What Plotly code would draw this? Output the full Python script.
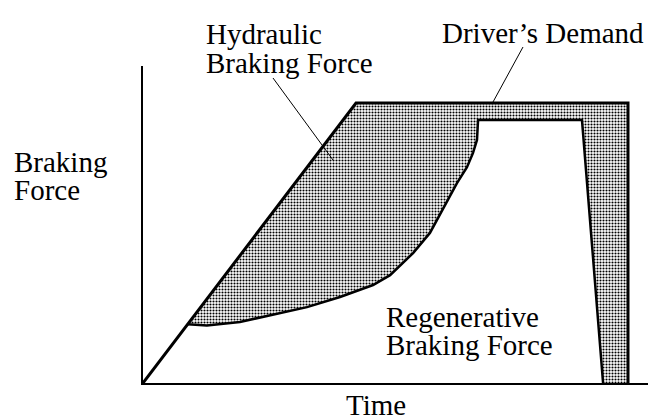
import plotly.graph_objects as go

# ---- data (time units, force units) ----
demand_time = [0, 10, 22.77, 22.77]
demand_force = [0, 10, 10, 0]

regen_time = [2.1, 3.0, 4.55, 6.10, 7.70, 9.25, 10.80, 11.6, 12.68, 13.47, 14.27, 14.74, 15.21, 15.49, 15.68, 15.73, 20.61, 21.6]
regen_force = [2.1, 2.05, 2.18, 2.43, 2.71, 3.07, 3.5, 3.85, 4.64, 5.36, 6.46, 7.14, 7.71, 8.21, 8.68, 9.39, 9.39, 0]

# ---- layout geometry (pixels) ----
W, H = 651, 420
L, R, T, B = 143, 3, 66, 37
PW, PH = W - L - R, H - T - B
XSCALE, YSCALE = 21.3, 28.0  # px per unit

def px(x):
    return (x - L) / PW

def py(y):
    return (H - B - y) / PH

# hydraulic region polygon: from regen start up the demand line, around, and back along regen
hyd_x = [regen_time[0]] + demand_time[1:] + regen_time[::-1]
hyd_y = [regen_force[0]] + demand_force[1:] + regen_force[::-1]

fig = go.Figure()
fig.add_trace(go.Scatter(
    x=hyd_x, y=hyd_y, mode="none", fill="toself",
    fillcolor="rgba(0,0,0,0)",
    fillpattern=dict(shape=".", size=3, solidity=0.38, fgcolor="#000000", bgcolor="#ffffff", fgopacity=1),
    hoverinfo="skip", showlegend=False,
))
fig.add_trace(go.Scatter(
    x=demand_time, y=demand_force, mode="lines",
    line=dict(color="black", width=3), showlegend=False, cliponaxis=False,
))
fig.add_trace(go.Scatter(
    x=regen_time, y=regen_force, mode="lines",
    line=dict(color="black", width=2.5), showlegend=False, cliponaxis=False,
))

FONT = dict(family="Liberation Serif", size=29, color="black")

labels = [
    ("Hydraulic", 204, 34.5),
    ("Braking Force", 204, 62.5),
    ("Driver\u2019s Demand", 440, 32.5),
    ("Braking", 12, 161.5),
    ("Force", 12, 189.5),
    ("Time", 344, 404.5),
    ("Regenerative", 384, 316.5),
    ("Braking Force", 384, 344.5),
]
for text, x, y in labels:
    fig.add_annotation(text=text, x=px(x), y=py(y), xref="paper", yref="paper",
                       xanchor="left", yanchor="middle", showarrow=False, font=FONT)

# leader lines
for (x0, y0, x1, y1) in [(273, 78, 333, 160), (523, 47, 493, 102)]:
    fig.add_shape(type="line", xref="paper", yref="paper",
                  x0=px(x0), y0=py(y0), x1=px(x1), y1=py(y1),
                  line=dict(color="black", width=1))

axis_common = dict(showgrid=False, zeroline=False, showticklabels=False, ticks="",
                   showline=True, linecolor="black", linewidth=2, fixedrange=True)
fig.update_xaxes(range=[0, PW / XSCALE], **axis_common)
fig.update_yaxes(range=[0, PH / YSCALE], **axis_common)
fig.update_layout(width=W, height=H, margin=dict(l=L, r=R, t=T, b=B),
                  plot_bgcolor="white", paper_bgcolor="white", showlegend=False,
                  font=FONT)

fig.write_html("out.html", config={"displayModeBar": False},
               post_script="document.body.style.margin='0';document.body.style.overflow='hidden';")
